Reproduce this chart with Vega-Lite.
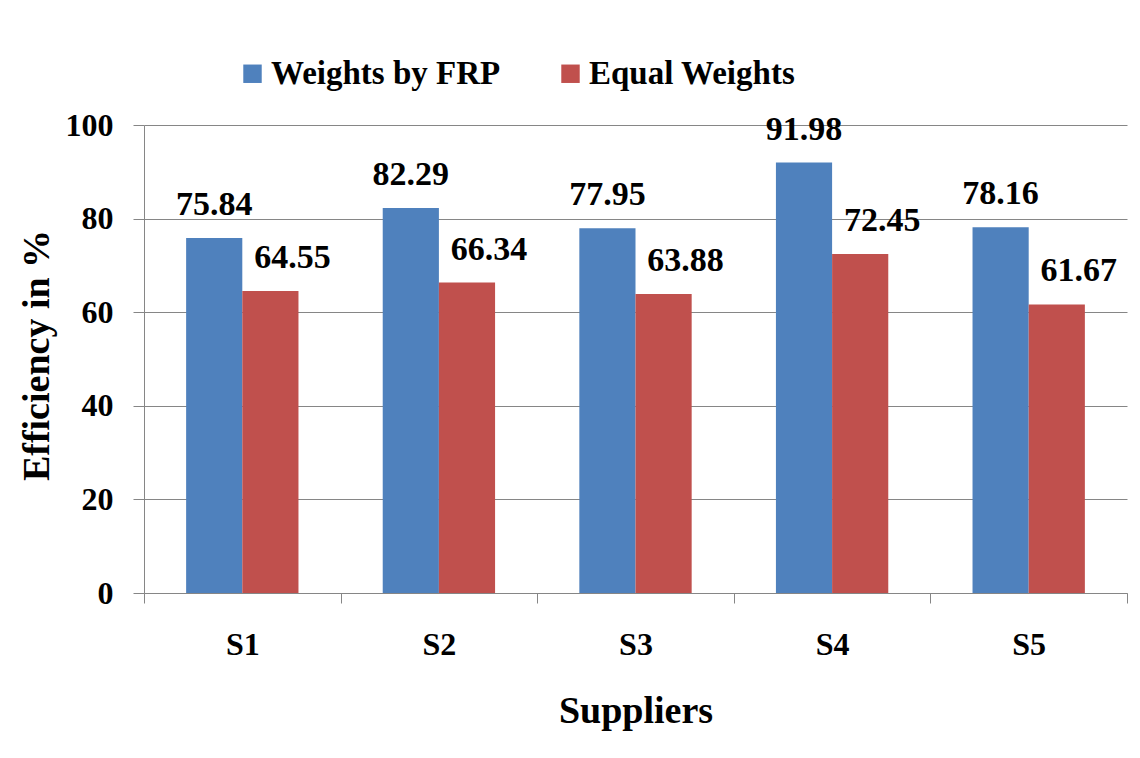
{
  "$schema": "https://vega.github.io/schema/vega-lite/v6.json",
  "width": 983,
  "height": 468,
  "autosize": {"type": "none"},
  "padding": {"left": 144, "top": 125, "right": 13, "bottom": 165},
  "background": "white",
  "data": {
    "values": [
      {"supplier": "S1", "scheme": "Weights by FRP", "efficiency": 75.84},
      {"supplier": "S1", "scheme": "Equal Weights", "efficiency": 64.55},
      {"supplier": "S2", "scheme": "Weights by FRP", "efficiency": 82.29},
      {"supplier": "S2", "scheme": "Equal Weights", "efficiency": 66.34},
      {"supplier": "S3", "scheme": "Weights by FRP", "efficiency": 77.95},
      {"supplier": "S3", "scheme": "Equal Weights", "efficiency": 63.88},
      {"supplier": "S4", "scheme": "Weights by FRP", "efficiency": 91.98},
      {"supplier": "S4", "scheme": "Equal Weights", "efficiency": 72.45},
      {"supplier": "S5", "scheme": "Weights by FRP", "efficiency": 78.16},
      {"supplier": "S5", "scheme": "Equal Weights", "efficiency": 61.67}
    ]
  },
  "encoding": {
    "x": {
      "field": "supplier",
      "type": "nominal",
      "title": "Suppliers",
      "scale": {"paddingInner": 0, "paddingOuter": 0},
      "axis": {
        "labelAngle": 0,
        "labelFontSize": 32,
        "labelPadding": 26,
        "tickBand": "extent",
        "tickSize": 10,
        "grid": false,
        "titleFontSize": 38,
        "titleX": 491.5,
        "titleY": 99,
        "titleBaseline": "top"
      }
    },
    "xOffset": {
      "field": "scheme",
      "type": "nominal",
      "sort": ["Weights by FRP", "Equal Weights"],
      "scale": {"paddingInner": 0, "paddingOuter": 0.75}
    },
    "y": {
      "field": "efficiency",
      "type": "quantitative",
      "title": "Efficiency in %",
      "scale": {"domain": [0, 100], "nice": false},
      "axis": {
        "values": [0, 20, 40, 60, 80, 100],
        "grid": true,
        "tickSize": 11,
        "labelFontSize": 32,
        "labelPadding": 20,
        "titleFontSize": 38,
        "titleAngle": -90,
        "titleAlign": "center",
        "titleBaseline": "bottom",
        "titleX": -88,
        "titleY": 230
      }
    }
  },
  "layer": [
    {
      "mark": {"type": "bar"},
      "encoding": {
        "color": {
          "field": "scheme",
          "type": "nominal",
          "scale": {
            "domain": ["Weights by FRP", "Equal Weights"],
            "range": ["#4F81BD", "#C0504D"]
          },
          "legend": {
            "orient": "none",
            "legendX": 92,
            "legendY": -68,
            "direction": "horizontal",
            "title": null,
            "symbolType": "square",
            "symbolSize": 340,
            "symbolStrokeWidth": 0,
            "labelFont": "Times New Roman, Liberation Serif, serif",
            "labelFontWeight": "bold",
            "labelFontSize": 33,
            "labelColor": "black",
            "labelLimit": 0,
            "labelOffset": 2,
            "columnPadding": 53,
            "padding": 0
          }
        }
      }
    },
    {
      "transform": [{"filter": "datum.scheme === 'Weights by FRP'"}],
      "mark": {
        "type": "text",
        "baseline": "alphabetic",
        "align": "center",
        "dy": -23,
        "font": "Times New Roman, Liberation Serif, serif",
        "fontWeight": "bold",
        "fontSize": 34,
        "color": "black"
      },
      "encoding": {
        "text": {"field": "efficiency", "type": "quantitative", "format": ".2f"}
      }
    },
    {
      "transform": [{"filter": "datum.scheme === 'Equal Weights'"}],
      "mark": {
        "type": "text",
        "baseline": "alphabetic",
        "align": "center",
        "dx": 22,
        "dy": -23,
        "font": "Times New Roman, Liberation Serif, serif",
        "fontWeight": "bold",
        "fontSize": 34,
        "color": "black"
      },
      "encoding": {
        "text": {"field": "efficiency", "type": "quantitative", "format": ".2f"}
      }
    }
  ],
  "config": {
    "view": {"stroke": null},
    "axis": {
      "labelFont": "Times New Roman, Liberation Serif, serif",
      "titleFont": "Times New Roman, Liberation Serif, serif",
      "labelFontWeight": "bold",
      "titleFontWeight": "bold",
      "labelColor": "black",
      "titleColor": "black",
      "domainColor": "#868686",
      "tickColor": "#868686",
      "gridColor": "#868686",
      "domainWidth": 1,
      "tickWidth": 1,
      "gridWidth": 1
    }
  }
}
